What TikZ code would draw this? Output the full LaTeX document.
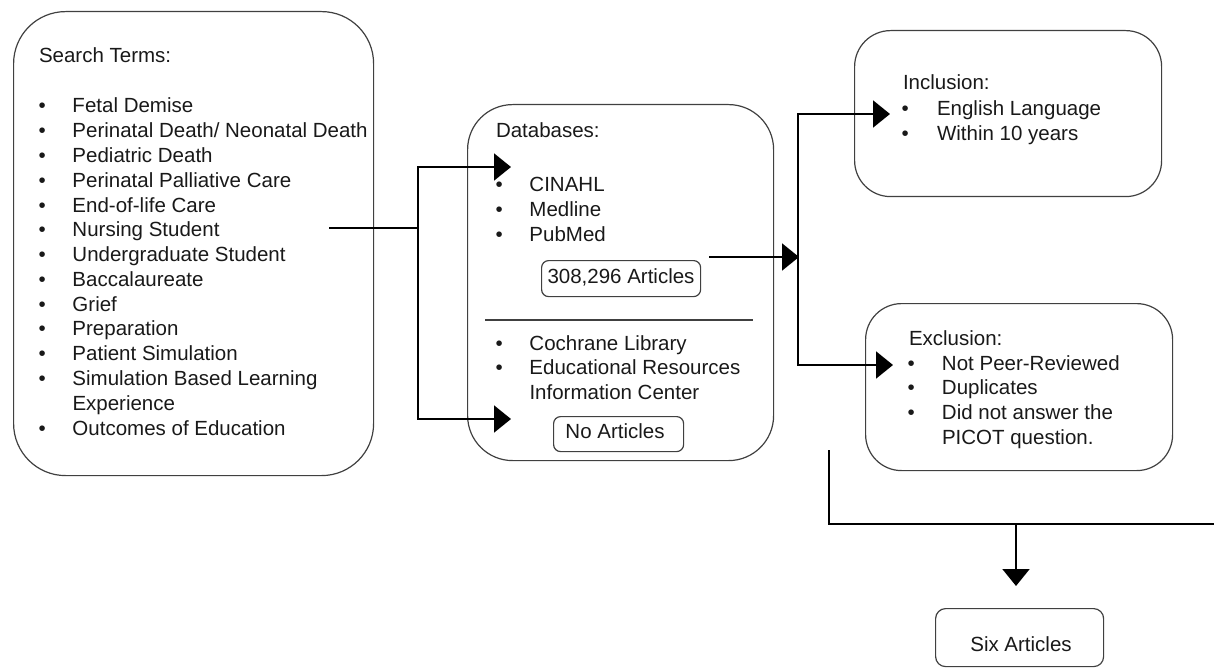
\documentclass[tikz,border=0pt]{standalone}
\usepackage{fontspec}
\setmainfont{Liberation Sans}
\usetikzlibrary{arrows.meta}
\newcommand\bul{\makebox[34pt][l]{•}}
\newcommand\ind{\hspace*{34pt}}
\begin{document}
\begin{tikzpicture}[x=1pt,y=-1pt,
  txt/.style={font=\fontsize{20.5}{24.77}\selectfont, inner sep=0pt, outer sep=0pt, text=black!90},
  tl/.style={txt, anchor=base west},
  rbox/.style={draw=black!75, line width=1.2pt, rounded corners=#1, inner sep=0pt, anchor=north west},
  conn/.style={draw=black, line width=2pt},
  arr/.style={conn, -{Triangle[length=17pt,width=27pt]}}]
\useasboundingbox (0,0) rectangle (1214,668);

% boxes
\node[rbox=52pt, minimum width=360pt, minimum height=464pt] (search) at (13,11) {};
\node[rbox=45pt, minimum width=306pt, minimum height=356pt] (db) at (467,104) {};
\node[rbox=36pt, minimum width=307pt, minimum height=166pt] (inc) at (854,30) {};
\node[rbox=36pt, minimum width=307pt, minimum height=167pt] (exc) at (865,303) {};
\node[rbox=7pt, minimum width=159pt, minimum height=36pt] (art1) at (541,260) {};
\node[rbox=7pt, minimum width=130pt, minimum height=35pt] (art0) at (553,416) {};
\node[rbox=10pt, minimum width=168pt, minimum height=58pt] (six) at (935,608) {};

% separator in databases box
\draw[draw=black!75, line width=1.2pt] (485,320) coordinate (sepL) -- (753,320) coordinate (sepR);

% texts: search terms
\node[tl] (stt) at (39,63) {Search Terms:};
\node[tl] (stl) at (38.5,113) {\begin{tabular}[t]{@{}l@{}}
\bul Fetal Demise\\
\bul Perinatal Death/ Neonatal Death\\
\bul Pediatric Death\\
\bul Perinatal Palliative Care\\
\bul End-of-life Care\\
\bul Nursing Student\\
\bul Undergraduate Student\\
\bul Baccalaureate\\
\bul Grief\\
\bul Preparation\\
\bul Patient Simulation\\
\bul Simulation Based Learning\\
\ind Experience\\
\bul Outcomes of Education
\end{tabular}};

% databases
\node[tl] (dbt) at (496,138) {Databases:};
\node[tl] (dbl1) at (495.5,192) {\begin{tabular}[t]{@{}l@{}}
\bul CINAHL\\
\bul Medline\\
\bul PubMed
\end{tabular}};
\node[txt, anchor=base] (art1t) at (621,283) {308,296 Articles};
\node[tl] (dbl2) at (495.5,350) {\begin{tabular}[t]{@{}l@{}}
\bul Cochrane Library\\
\bul Educational Resources\\
\ind Information Center
\end{tabular}};
\node[txt, anchor=base] (art0t) at (615,438) {No Articles};

% inclusion
\node[tl] (inct) at (903,90) {Inclusion:};
\node[tl] (incl) at (901.5,116) {\begin{tabular}[t]{@{}l@{}}
\makebox[35.5pt][l]{•}English Language\\
\makebox[35.5pt][l]{•}Within 10 years
\end{tabular}};

% exclusion
\node[tl] (exct) at (909,345) {Exclusion:};
\node[tl] (excl) at (907.5,370) {\begin{tabular}[t]{@{}l@{}}
\makebox[34.5pt][l]{•}Not Peer-Reviewed\\
\makebox[34.5pt][l]{•}Duplicates\\
\makebox[34.5pt][l]{•}Did not answer the\\
\hspace*{34.5pt}PICOT question.
\end{tabular}};

% six articles
\node[txt, anchor=base] (sixt) at (1021,651) {Six Articles};

% connectors
\coordinate (s1) at (329,228);
\coordinate (j1) at (418,228);
\coordinate (d1) at (511,167);
\coordinate (d2) at (511,419);
\draw[conn] (s1) -- (j1);
\draw[arr] (j1) |- (d1);
\draw[arr] (j1) |- (d2);

\coordinate (p1) at (709,257);
\coordinate (j2) at (799,257);
\coordinate (i1) at (890,114);
\coordinate (e1) at (893,365);
\draw[arr] (p1) -- (j2);
\draw[arr] ([xshift=-1pt]j2) |- (i1);
\draw[arr] ([xshift=-1pt]j2) |- (e1);

\coordinate (q1) at (829,450);
\coordinate (q2) at (1214,524);
\coordinate (j3) at (1016,524);
\coordinate (t1) at (1016,586);
\draw[conn] (q1) |- (q2);
\draw[arr] (j3) -- (t1);
\end{tikzpicture}
\end{document}
